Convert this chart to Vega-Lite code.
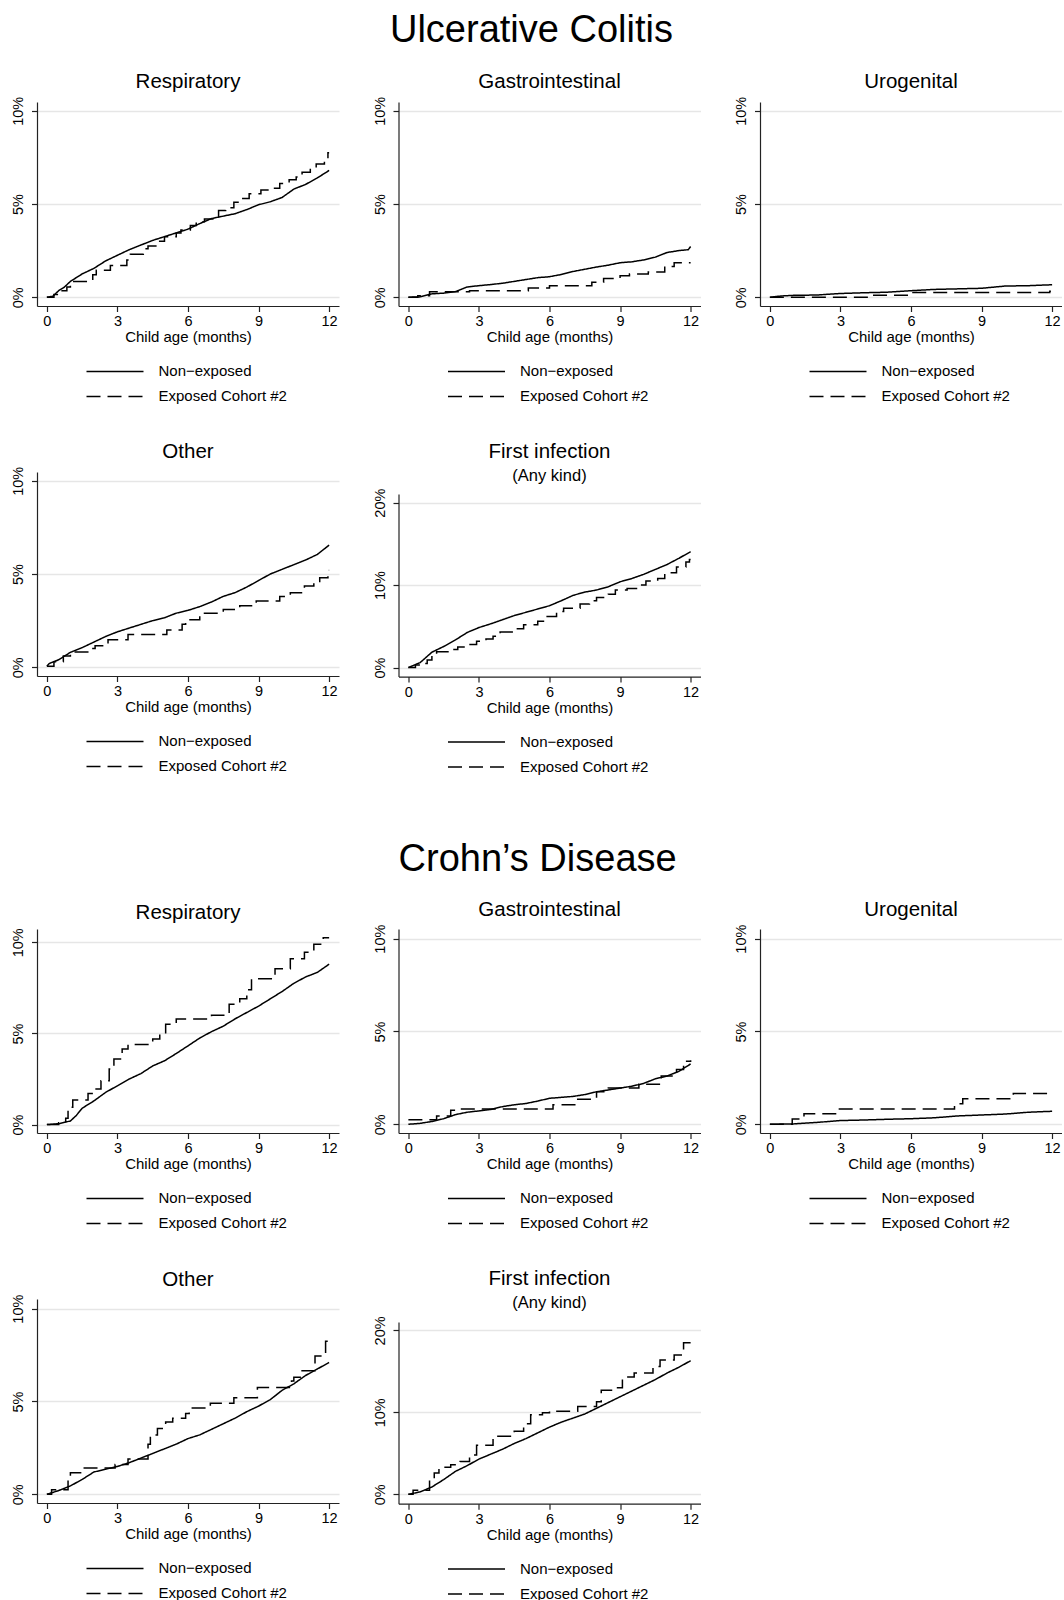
{
  "$schema": "https://vega.github.io/schema/vega-lite/v6.json",
  "padding": {"top": 11, "left": 10, "right": 0, "bottom": 0},
  "background": "white",
  "title": {"text": "Ulcerative Colitis", "fontSize": 38, "offset": 22.1, "anchor": "middle", "dx": -5},
  "data": {"values": [
    {"d":"UC","p":"R","g":"N","t":0,"v":0},{"d":"UC","p":"R","g":"N","t":0.25,"v":0.05},{"d":"UC","p":"R","g":"N","t":0.5,"v":0.35},{"d":"UC","p":"R","g":"N","t":0.75,"v":0.55},{"d":"UC","p":"R","g":"N","t":1,"v":0.85},{"d":"UC","p":"R","g":"N","t":1.25,"v":1.05},{"d":"UC","p":"R","g":"N","t":1.5,"v":1.25},{"d":"UC","p":"R","g":"N","t":1.75,"v":1.4},{"d":"UC","p":"R","g":"N","t":2,"v":1.55},{"d":"UC","p":"R","g":"N","t":2.25,"v":1.75},{"d":"UC","p":"R","g":"N","t":2.5,"v":1.95},{"d":"UC","p":"R","g":"N","t":3,"v":2.25},{"d":"UC","p":"R","g":"N","t":3.5,"v":2.55},{"d":"UC","p":"R","g":"N","t":4,"v":2.8},{"d":"UC","p":"R","g":"N","t":4.5,"v":3.05},{"d":"UC","p":"R","g":"N","t":5,"v":3.25},{"d":"UC","p":"R","g":"N","t":5.5,"v":3.45},{"d":"UC","p":"R","g":"N","t":6,"v":3.65},{"d":"UC","p":"R","g":"N","t":6.5,"v":3.95},{"d":"UC","p":"R","g":"N","t":7,"v":4.22},{"d":"UC","p":"R","g":"N","t":7.5,"v":4.35},{"d":"UC","p":"R","g":"N","t":8,"v":4.48},{"d":"UC","p":"R","g":"N","t":8.5,"v":4.7},{"d":"UC","p":"R","g":"N","t":9,"v":4.96},{"d":"UC","p":"R","g":"N","t":9.5,"v":5.12},{"d":"UC","p":"R","g":"N","t":10,"v":5.35},{"d":"UC","p":"R","g":"N","t":10.5,"v":5.8},{"d":"UC","p":"R","g":"N","t":11,"v":6.05},{"d":"UC","p":"R","g":"N","t":11.5,"v":6.4},{"d":"UC","p":"R","g":"N","t":12,"v":6.8},
    {"d":"UC","p":"R","g":"E","t":0,"v":0},{"d":"UC","p":"R","g":"E","t":0.3,"v":0.15},{"d":"UC","p":"R","g":"E","t":0.55,"v":0.35},{"d":"UC","p":"R","g":"E","t":0.85,"v":0.55},{"d":"UC","p":"R","g":"E","t":1.0,"v":0.85},{"d":"UC","p":"R","g":"E","t":1.95,"v":1.2},{"d":"UC","p":"R","g":"E","t":2.1,"v":1.45},{"d":"UC","p":"R","g":"E","t":2.7,"v":1.7},{"d":"UC","p":"R","g":"E","t":3.4,"v":2.0},{"d":"UC","p":"R","g":"E","t":3.55,"v":2.3},{"d":"UC","p":"R","g":"E","t":4.1,"v":2.6},{"d":"UC","p":"R","g":"E","t":4.3,"v":2.75},{"d":"UC","p":"R","g":"E","t":4.75,"v":3.0},{"d":"UC","p":"R","g":"E","t":5.0,"v":3.25},{"d":"UC","p":"R","g":"E","t":5.5,"v":3.45},{"d":"UC","p":"R","g":"E","t":5.7,"v":3.6},{"d":"UC","p":"R","g":"E","t":6.1,"v":3.85},{"d":"UC","p":"R","g":"E","t":6.35,"v":4.05},{"d":"UC","p":"R","g":"E","t":6.7,"v":4.2},{"d":"UC","p":"R","g":"E","t":7.3,"v":4.65},{"d":"UC","p":"R","g":"E","t":7.6,"v":4.8},{"d":"UC","p":"R","g":"E","t":7.95,"v":5.1},{"d":"UC","p":"R","g":"E","t":8.2,"v":5.3},{"d":"UC","p":"R","g":"E","t":8.6,"v":5.55},{"d":"UC","p":"R","g":"E","t":9.1,"v":5.75},{"d":"UC","p":"R","g":"E","t":9.5,"v":5.85},{"d":"UC","p":"R","g":"E","t":9.9,"v":6.1},{"d":"UC","p":"R","g":"E","t":10.3,"v":6.3},{"d":"UC","p":"R","g":"E","t":10.6,"v":6.45},{"d":"UC","p":"R","g":"E","t":10.85,"v":6.7},{"d":"UC","p":"R","g":"E","t":11.2,"v":6.9},{"d":"UC","p":"R","g":"E","t":11.45,"v":7.15},{"d":"UC","p":"R","g":"E","t":11.8,"v":7.4},{"d":"UC","p":"R","g":"E","t":11.95,"v":7.75},{"d":"UC","p":"R","g":"E","t":12,"v":7.75},
    {"d":"UC","p":"G","g":"N","t":0,"v":0},{"d":"UC","p":"G","g":"N","t":0.5,"v":0.02},{"d":"UC","p":"G","g":"N","t":1,"v":0.18},{"d":"UC","p":"G","g":"N","t":1.5,"v":0.22},{"d":"UC","p":"G","g":"N","t":2,"v":0.3},{"d":"UC","p":"G","g":"N","t":2.5,"v":0.55},{"d":"UC","p":"G","g":"N","t":3,"v":0.62},{"d":"UC","p":"G","g":"N","t":3.5,"v":0.68},{"d":"UC","p":"G","g":"N","t":4,"v":0.75},{"d":"UC","p":"G","g":"N","t":4.5,"v":0.85},{"d":"UC","p":"G","g":"N","t":5,"v":0.95},{"d":"UC","p":"G","g":"N","t":5.5,"v":1.05},{"d":"UC","p":"G","g":"N","t":6,"v":1.1},{"d":"UC","p":"G","g":"N","t":6.5,"v":1.22},{"d":"UC","p":"G","g":"N","t":7,"v":1.38},{"d":"UC","p":"G","g":"N","t":7.5,"v":1.5},{"d":"UC","p":"G","g":"N","t":8,"v":1.62},{"d":"UC","p":"G","g":"N","t":8.5,"v":1.72},{"d":"UC","p":"G","g":"N","t":9,"v":1.85},{"d":"UC","p":"G","g":"N","t":9.5,"v":1.9},{"d":"UC","p":"G","g":"N","t":10,"v":2.0},{"d":"UC","p":"G","g":"N","t":10.5,"v":2.15},{"d":"UC","p":"G","g":"N","t":11,"v":2.4},{"d":"UC","p":"G","g":"N","t":11.5,"v":2.5},{"d":"UC","p":"G","g":"N","t":11.9,"v":2.55},{"d":"UC","p":"G","g":"N","t":12,"v":2.72},
    {"d":"UC","p":"G","g":"E","t":0,"v":0},{"d":"UC","p":"G","g":"E","t":0.4,"v":0.08},{"d":"UC","p":"G","g":"E","t":0.9,"v":0.3},{"d":"UC","p":"G","g":"E","t":2.6,"v":0.35},{"d":"UC","p":"G","g":"E","t":5.1,"v":0.5},{"d":"UC","p":"G","g":"E","t":6.0,"v":0.62},{"d":"UC","p":"G","g":"E","t":7.8,"v":0.8},{"d":"UC","p":"G","g":"E","t":8.3,"v":1.0},{"d":"UC","p":"G","g":"E","t":9.0,"v":1.15},{"d":"UC","p":"G","g":"E","t":9.4,"v":1.25},{"d":"UC","p":"G","g":"E","t":10.2,"v":1.35},{"d":"UC","p":"G","g":"E","t":10.9,"v":1.65},{"d":"UC","p":"G","g":"E","t":11.3,"v":1.85},{"d":"UC","p":"G","g":"E","t":12,"v":1.85},
    {"d":"UC","p":"U","g":"N","t":0,"v":0},{"d":"UC","p":"U","g":"N","t":0.5,"v":0.07},{"d":"UC","p":"U","g":"N","t":1,"v":0.1},{"d":"UC","p":"U","g":"N","t":2,"v":0.12},{"d":"UC","p":"U","g":"N","t":3,"v":0.2},{"d":"UC","p":"U","g":"N","t":4,"v":0.24},{"d":"UC","p":"U","g":"N","t":5,"v":0.27},{"d":"UC","p":"U","g":"N","t":6,"v":0.35},{"d":"UC","p":"U","g":"N","t":7,"v":0.42},{"d":"UC","p":"U","g":"N","t":8,"v":0.45},{"d":"UC","p":"U","g":"N","t":9,"v":0.48},{"d":"UC","p":"U","g":"N","t":10,"v":0.6},{"d":"UC","p":"U","g":"N","t":11,"v":0.62},{"d":"UC","p":"U","g":"N","t":12,"v":0.67},
    {"d":"UC","p":"U","g":"E","t":0,"v":0},{"d":"UC","p":"U","g":"E","t":4.2,"v":0.1},{"d":"UC","p":"U","g":"E","t":6.0,"v":0.25},{"d":"UC","p":"U","g":"E","t":11.9,"v":0.32},{"d":"UC","p":"U","g":"E","t":12,"v":0.32},
    {"d":"UC","p":"O","g":"N","t":0,"v":0.05},{"d":"UC","p":"O","g":"N","t":0.1,"v":0.2},{"d":"UC","p":"O","g":"N","t":0.5,"v":0.4},{"d":"UC","p":"O","g":"N","t":1,"v":0.8},{"d":"UC","p":"O","g":"N","t":1.5,"v":1.05},{"d":"UC","p":"O","g":"N","t":2,"v":1.35},{"d":"UC","p":"O","g":"N","t":2.5,"v":1.65},{"d":"UC","p":"O","g":"N","t":3,"v":1.9},{"d":"UC","p":"O","g":"N","t":3.5,"v":2.1},{"d":"UC","p":"O","g":"N","t":4,"v":2.3},{"d":"UC","p":"O","g":"N","t":4.5,"v":2.5},{"d":"UC","p":"O","g":"N","t":5,"v":2.65},{"d":"UC","p":"O","g":"N","t":5.5,"v":2.9},{"d":"UC","p":"O","g":"N","t":6,"v":3.05},{"d":"UC","p":"O","g":"N","t":6.5,"v":3.25},{"d":"UC","p":"O","g":"N","t":7,"v":3.5},{"d":"UC","p":"O","g":"N","t":7.5,"v":3.8},{"d":"UC","p":"O","g":"N","t":8,"v":4.0},{"d":"UC","p":"O","g":"N","t":8.5,"v":4.3},{"d":"UC","p":"O","g":"N","t":9,"v":4.65},{"d":"UC","p":"O","g":"N","t":9.5,"v":5.0},{"d":"UC","p":"O","g":"N","t":10,"v":5.25},{"d":"UC","p":"O","g":"N","t":10.5,"v":5.5},{"d":"UC","p":"O","g":"N","t":11,"v":5.75},{"d":"UC","p":"O","g":"N","t":11.5,"v":6.05},{"d":"UC","p":"O","g":"N","t":12,"v":6.55},
    {"d":"UC","p":"O","g":"E","t":0,"v":0.05},{"d":"UC","p":"O","g":"E","t":0.3,"v":0.3},{"d":"UC","p":"O","g":"E","t":0.7,"v":0.6},{"d":"UC","p":"O","g":"E","t":1.0,"v":0.82},{"d":"UC","p":"O","g":"E","t":1.85,"v":1.0},{"d":"UC","p":"O","g":"E","t":2.05,"v":1.15},{"d":"UC","p":"O","g":"E","t":2.6,"v":1.48},{"d":"UC","p":"O","g":"E","t":3.45,"v":1.75},{"d":"UC","p":"O","g":"E","t":5.1,"v":2.0},{"d":"UC","p":"O","g":"E","t":5.75,"v":2.3},{"d":"UC","p":"O","g":"E","t":5.9,"v":2.55},{"d":"UC","p":"O","g":"E","t":6.5,"v":2.9},{"d":"UC","p":"O","g":"E","t":7.5,"v":3.1},{"d":"UC","p":"O","g":"E","t":8.2,"v":3.3},{"d":"UC","p":"O","g":"E","t":8.9,"v":3.55},{"d":"UC","p":"O","g":"E","t":9.9,"v":3.8},{"d":"UC","p":"O","g":"E","t":10.35,"v":4.0},{"d":"UC","p":"O","g":"E","t":10.95,"v":4.35},{"d":"UC","p":"O","g":"E","t":11.35,"v":4.6},{"d":"UC","p":"O","g":"E","t":11.6,"v":4.8},{"d":"UC","p":"O","g":"E","t":11.95,"v":5.2},{"d":"UC","p":"O","g":"E","t":12,"v":5.2},
    {"d":"UC","p":"F","g":"N","t":0,"v":0},{"d":"UC","p":"F","g":"N","t":0.5,"v":0.6},{"d":"UC","p":"F","g":"N","t":1,"v":1.86},{"d":"UC","p":"F","g":"N","t":1.5,"v":2.55},{"d":"UC","p":"F","g":"N","t":2,"v":3.35},{"d":"UC","p":"F","g":"N","t":2.5,"v":4.25},{"d":"UC","p":"F","g":"N","t":3,"v":4.85},{"d":"UC","p":"F","g":"N","t":3.5,"v":5.3},{"d":"UC","p":"F","g":"N","t":4,"v":5.8},{"d":"UC","p":"F","g":"N","t":4.5,"v":6.3},{"d":"UC","p":"F","g":"N","t":5,"v":6.7},{"d":"UC","p":"F","g":"N","t":5.5,"v":7.1},{"d":"UC","p":"F","g":"N","t":6,"v":7.5},{"d":"UC","p":"F","g":"N","t":6.5,"v":8.1},{"d":"UC","p":"F","g":"N","t":7,"v":8.75},{"d":"UC","p":"F","g":"N","t":7.5,"v":9.15},{"d":"UC","p":"F","g":"N","t":8,"v":9.4},{"d":"UC","p":"F","g":"N","t":8.5,"v":9.8},{"d":"UC","p":"F","g":"N","t":9,"v":10.4},{"d":"UC","p":"F","g":"N","t":9.5,"v":10.8},{"d":"UC","p":"F","g":"N","t":10,"v":11.3},{"d":"UC","p":"F","g":"N","t":10.5,"v":11.9},{"d":"UC","p":"F","g":"N","t":11,"v":12.5},{"d":"UC","p":"F","g":"N","t":11.5,"v":13.25},{"d":"UC","p":"F","g":"N","t":12,"v":14.05},
    {"d":"UC","p":"F","g":"E","t":0,"v":0},{"d":"UC","p":"F","g":"E","t":0.3,"v":0.3},{"d":"UC","p":"F","g":"E","t":0.5,"v":0.5},{"d":"UC","p":"F","g":"E","t":0.8,"v":0.9},{"d":"UC","p":"F","g":"E","t":1.0,"v":1.6},{"d":"UC","p":"F","g":"E","t":1.2,"v":1.9},{"d":"UC","p":"F","g":"E","t":1.85,"v":2.2},{"d":"UC","p":"F","g":"E","t":2.1,"v":2.5},{"d":"UC","p":"F","g":"E","t":2.5,"v":2.8},{"d":"UC","p":"F","g":"E","t":2.9,"v":3.2},{"d":"UC","p":"F","g":"E","t":3.3,"v":3.45},{"d":"UC","p":"F","g":"E","t":3.6,"v":3.8},{"d":"UC","p":"F","g":"E","t":3.9,"v":4.3},{"d":"UC","p":"F","g":"E","t":4.5,"v":4.7},{"d":"UC","p":"F","g":"E","t":4.9,"v":5.2},{"d":"UC","p":"F","g":"E","t":5.5,"v":5.6},{"d":"UC","p":"F","g":"E","t":5.9,"v":6.2},{"d":"UC","p":"F","g":"E","t":6.3,"v":6.8},{"d":"UC","p":"F","g":"E","t":6.6,"v":7.2},{"d":"UC","p":"F","g":"E","t":7.3,"v":7.7},{"d":"UC","p":"F","g":"E","t":7.7,"v":8.1},{"d":"UC","p":"F","g":"E","t":8.0,"v":8.5},{"d":"UC","p":"F","g":"E","t":8.5,"v":8.9},{"d":"UC","p":"F","g":"E","t":8.8,"v":9.4},{"d":"UC","p":"F","g":"E","t":9.3,"v":9.6},{"d":"UC","p":"F","g":"E","t":9.8,"v":10.0},{"d":"UC","p":"F","g":"E","t":10.1,"v":10.5},{"d":"UC","p":"F","g":"E","t":10.6,"v":10.8},{"d":"UC","p":"F","g":"E","t":10.9,"v":11.5},{"d":"UC","p":"F","g":"E","t":11.4,"v":12.2},{"d":"UC","p":"F","g":"E","t":11.8,"v":12.8},{"d":"UC","p":"F","g":"E","t":11.95,"v":13.1},{"d":"UC","p":"F","g":"E","t":12,"v":13.1},
    {"d":"CD","p":"R","g":"N","t":0,"v":0},{"d":"CD","p":"R","g":"N","t":0.5,"v":0.05},{"d":"CD","p":"R","g":"N","t":1,"v":0.2},{"d":"CD","p":"R","g":"N","t":1.25,"v":0.5},{"d":"CD","p":"R","g":"N","t":1.5,"v":0.9},{"d":"CD","p":"R","g":"N","t":2,"v":1.3},{"d":"CD","p":"R","g":"N","t":2.5,"v":1.77},{"d":"CD","p":"R","g":"N","t":3,"v":2.13},{"d":"CD","p":"R","g":"N","t":3.5,"v":2.5},{"d":"CD","p":"R","g":"N","t":4,"v":2.8},{"d":"CD","p":"R","g":"N","t":4.5,"v":3.22},{"d":"CD","p":"R","g":"N","t":5,"v":3.5},{"d":"CD","p":"R","g":"N","t":5.5,"v":3.9},{"d":"CD","p":"R","g":"N","t":6,"v":4.32},{"d":"CD","p":"R","g":"N","t":6.5,"v":4.75},{"d":"CD","p":"R","g":"N","t":7,"v":5.1},{"d":"CD","p":"R","g":"N","t":7.5,"v":5.4},{"d":"CD","p":"R","g":"N","t":8,"v":5.8},{"d":"CD","p":"R","g":"N","t":8.5,"v":6.15},{"d":"CD","p":"R","g":"N","t":9,"v":6.5},{"d":"CD","p":"R","g":"N","t":9.5,"v":6.9},{"d":"CD","p":"R","g":"N","t":10,"v":7.3},{"d":"CD","p":"R","g":"N","t":10.5,"v":7.75},{"d":"CD","p":"R","g":"N","t":11,"v":8.1},{"d":"CD","p":"R","g":"N","t":11.5,"v":8.35},{"d":"CD","p":"R","g":"N","t":12,"v":8.8},
    {"d":"CD","p":"R","g":"E","t":0,"v":0},{"d":"CD","p":"R","g":"E","t":0.5,"v":0.1},{"d":"CD","p":"R","g":"E","t":0.8,"v":0.35},{"d":"CD","p":"R","g":"E","t":0.9,"v":0.95},{"d":"CD","p":"R","g":"E","t":1.1,"v":1.35},{"d":"CD","p":"R","g":"E","t":1.75,"v":1.7},{"d":"CD","p":"R","g":"E","t":2.0,"v":1.95},{"d":"CD","p":"R","g":"E","t":2.3,"v":2.4},{"d":"CD","p":"R","g":"E","t":2.65,"v":3.05},{"d":"CD","p":"R","g":"E","t":2.85,"v":3.6},{"d":"CD","p":"R","g":"E","t":3.2,"v":4.15},{"d":"CD","p":"R","g":"E","t":3.45,"v":4.4},{"d":"CD","p":"R","g":"E","t":4.5,"v":4.7},{"d":"CD","p":"R","g":"E","t":4.8,"v":4.95},{"d":"CD","p":"R","g":"E","t":5.05,"v":5.5},{"d":"CD","p":"R","g":"E","t":5.5,"v":5.8},{"d":"CD","p":"R","g":"E","t":7.0,"v":6.0},{"d":"CD","p":"R","g":"E","t":7.75,"v":6.6},{"d":"CD","p":"R","g":"E","t":8.2,"v":6.9},{"d":"CD","p":"R","g":"E","t":8.5,"v":7.4},{"d":"CD","p":"R","g":"E","t":8.7,"v":8.0},{"d":"CD","p":"R","g":"E","t":9.7,"v":8.55},{"d":"CD","p":"R","g":"E","t":10.35,"v":9.1},{"d":"CD","p":"R","g":"E","t":10.95,"v":9.45},{"d":"CD","p":"R","g":"E","t":11.35,"v":9.9},{"d":"CD","p":"R","g":"E","t":11.75,"v":10.25},{"d":"CD","p":"R","g":"E","t":12,"v":10.25},
    {"d":"CD","p":"G","g":"N","t":0,"v":0},{"d":"CD","p":"G","g":"N","t":0.5,"v":0.05},{"d":"CD","p":"G","g":"N","t":1,"v":0.15},{"d":"CD","p":"G","g":"N","t":1.5,"v":0.3},{"d":"CD","p":"G","g":"N","t":2,"v":0.52},{"d":"CD","p":"G","g":"N","t":2.5,"v":0.65},{"d":"CD","p":"G","g":"N","t":3,"v":0.72},{"d":"CD","p":"G","g":"N","t":3.5,"v":0.8},{"d":"CD","p":"G","g":"N","t":4,"v":0.95},{"d":"CD","p":"G","g":"N","t":4.5,"v":1.05},{"d":"CD","p":"G","g":"N","t":5,"v":1.12},{"d":"CD","p":"G","g":"N","t":5.5,"v":1.25},{"d":"CD","p":"G","g":"N","t":6,"v":1.4},{"d":"CD","p":"G","g":"N","t":6.5,"v":1.45},{"d":"CD","p":"G","g":"N","t":7,"v":1.5},{"d":"CD","p":"G","g":"N","t":7.5,"v":1.6},{"d":"CD","p":"G","g":"N","t":8,"v":1.75},{"d":"CD","p":"G","g":"N","t":8.5,"v":1.85},{"d":"CD","p":"G","g":"N","t":9,"v":1.95},{"d":"CD","p":"G","g":"N","t":9.5,"v":2.05},{"d":"CD","p":"G","g":"N","t":10,"v":2.2},{"d":"CD","p":"G","g":"N","t":10.5,"v":2.45},{"d":"CD","p":"G","g":"N","t":11,"v":2.6},{"d":"CD","p":"G","g":"N","t":11.5,"v":2.85},{"d":"CD","p":"G","g":"N","t":12,"v":3.25},
    {"d":"CD","p":"G","g":"E","t":0,"v":0.25},{"d":"CD","p":"G","g":"E","t":1.2,"v":0.45},{"d":"CD","p":"G","g":"E","t":1.8,"v":0.75},{"d":"CD","p":"G","g":"E","t":2.0,"v":0.82},{"d":"CD","p":"G","g":"E","t":6.15,"v":1.05},{"d":"CD","p":"G","g":"E","t":7.15,"v":1.35},{"d":"CD","p":"G","g":"E","t":8.0,"v":1.75},{"d":"CD","p":"G","g":"E","t":8.5,"v":1.95},{"d":"CD","p":"G","g":"E","t":9.8,"v":2.15},{"d":"CD","p":"G","g":"E","t":10.75,"v":2.6},{"d":"CD","p":"G","g":"E","t":11.4,"v":2.95},{"d":"CD","p":"G","g":"E","t":11.7,"v":3.4},{"d":"CD","p":"G","g":"E","t":12,"v":3.45},
    {"d":"CD","p":"U","g":"N","t":0,"v":0},{"d":"CD","p":"U","g":"N","t":1,"v":0.02},{"d":"CD","p":"U","g":"N","t":2,"v":0.1},{"d":"CD","p":"U","g":"N","t":3,"v":0.2},{"d":"CD","p":"U","g":"N","t":4,"v":0.23},{"d":"CD","p":"U","g":"N","t":5,"v":0.27},{"d":"CD","p":"U","g":"N","t":6,"v":0.3},{"d":"CD","p":"U","g":"N","t":7,"v":0.35},{"d":"CD","p":"U","g":"N","t":8,"v":0.45},{"d":"CD","p":"U","g":"N","t":9,"v":0.5},{"d":"CD","p":"U","g":"N","t":10,"v":0.55},{"d":"CD","p":"U","g":"N","t":11,"v":0.65},{"d":"CD","p":"U","g":"N","t":12,"v":0.7},
    {"d":"CD","p":"U","g":"E","t":0,"v":0},{"d":"CD","p":"U","g":"E","t":0.95,"v":0.29},{"d":"CD","p":"U","g":"E","t":1.45,"v":0.57},{"d":"CD","p":"U","g":"E","t":2.85,"v":0.82},{"d":"CD","p":"U","g":"E","t":7.85,"v":1.1},{"d":"CD","p":"U","g":"E","t":8.2,"v":1.37},{"d":"CD","p":"U","g":"E","t":10.35,"v":1.66},{"d":"CD","p":"U","g":"E","t":12,"v":1.66},
    {"d":"CD","p":"O","g":"N","t":0,"v":0},{"d":"CD","p":"O","g":"N","t":0.25,"v":0.1},{"d":"CD","p":"O","g":"N","t":0.5,"v":0.2},{"d":"CD","p":"O","g":"N","t":1,"v":0.45},{"d":"CD","p":"O","g":"N","t":1.5,"v":0.8},{"d":"CD","p":"O","g":"N","t":2,"v":1.2},{"d":"CD","p":"O","g":"N","t":2.5,"v":1.35},{"d":"CD","p":"O","g":"N","t":3,"v":1.5},{"d":"CD","p":"O","g":"N","t":3.5,"v":1.7},{"d":"CD","p":"O","g":"N","t":4,"v":1.95},{"d":"CD","p":"O","g":"N","t":4.5,"v":2.2},{"d":"CD","p":"O","g":"N","t":5,"v":2.45},{"d":"CD","p":"O","g":"N","t":5.5,"v":2.7},{"d":"CD","p":"O","g":"N","t":6,"v":3.0},{"d":"CD","p":"O","g":"N","t":6.5,"v":3.2},{"d":"CD","p":"O","g":"N","t":7,"v":3.5},{"d":"CD","p":"O","g":"N","t":7.5,"v":3.8},{"d":"CD","p":"O","g":"N","t":8,"v":4.1},{"d":"CD","p":"O","g":"N","t":8.5,"v":4.45},{"d":"CD","p":"O","g":"N","t":9,"v":4.75},{"d":"CD","p":"O","g":"N","t":9.5,"v":5.1},{"d":"CD","p":"O","g":"N","t":10,"v":5.6},{"d":"CD","p":"O","g":"N","t":10.5,"v":5.95},{"d":"CD","p":"O","g":"N","t":11,"v":6.4},{"d":"CD","p":"O","g":"N","t":11.5,"v":6.75},{"d":"CD","p":"O","g":"N","t":12,"v":7.1},
    {"d":"CD","p":"O","g":"E","t":0,"v":0},{"d":"CD","p":"O","g":"E","t":0.2,"v":0.25},{"d":"CD","p":"O","g":"E","t":0.9,"v":0.75},{"d":"CD","p":"O","g":"E","t":1.0,"v":1.16},{"d":"CD","p":"O","g":"E","t":1.55,"v":1.42},{"d":"CD","p":"O","g":"E","t":2.9,"v":1.6},{"d":"CD","p":"O","g":"E","t":3.45,"v":1.9},{"d":"CD","p":"O","g":"E","t":4.3,"v":2.7},{"d":"CD","p":"O","g":"E","t":4.4,"v":3.2},{"d":"CD","p":"O","g":"E","t":4.7,"v":3.55},{"d":"CD","p":"O","g":"E","t":5.05,"v":3.9},{"d":"CD","p":"O","g":"E","t":5.35,"v":4.1},{"d":"CD","p":"O","g":"E","t":5.9,"v":4.35},{"d":"CD","p":"O","g":"E","t":6.05,"v":4.65},{"d":"CD","p":"O","g":"E","t":6.95,"v":4.9},{"d":"CD","p":"O","g":"E","t":7.95,"v":5.2},{"d":"CD","p":"O","g":"E","t":8.95,"v":5.75},{"d":"CD","p":"O","g":"E","t":10.4,"v":6.1},{"d":"CD","p":"O","g":"E","t":10.5,"v":6.3},{"d":"CD","p":"O","g":"E","t":10.85,"v":6.65},{"d":"CD","p":"O","g":"E","t":11.4,"v":7.45},{"d":"CD","p":"O","g":"E","t":11.85,"v":8.25},{"d":"CD","p":"O","g":"E","t":12,"v":8.25},
    {"d":"CD","p":"F","g":"N","t":0,"v":0},{"d":"CD","p":"F","g":"N","t":0.5,"v":0.3},{"d":"CD","p":"F","g":"N","t":1,"v":0.9},{"d":"CD","p":"F","g":"N","t":1.5,"v":1.8},{"d":"CD","p":"F","g":"N","t":2,"v":2.8},{"d":"CD","p":"F","g":"N","t":2.5,"v":3.5},{"d":"CD","p":"F","g":"N","t":3,"v":4.3},{"d":"CD","p":"F","g":"N","t":3.5,"v":4.9},{"d":"CD","p":"F","g":"N","t":4,"v":5.5},{"d":"CD","p":"F","g":"N","t":4.5,"v":6.2},{"d":"CD","p":"F","g":"N","t":5,"v":6.8},{"d":"CD","p":"F","g":"N","t":5.5,"v":7.5},{"d":"CD","p":"F","g":"N","t":6,"v":8.2},{"d":"CD","p":"F","g":"N","t":6.5,"v":8.8},{"d":"CD","p":"F","g":"N","t":7,"v":9.3},{"d":"CD","p":"F","g":"N","t":7.5,"v":9.8},{"d":"CD","p":"F","g":"N","t":8,"v":10.5},{"d":"CD","p":"F","g":"N","t":8.5,"v":11.2},{"d":"CD","p":"F","g":"N","t":9,"v":11.9},{"d":"CD","p":"F","g":"N","t":9.5,"v":12.6},{"d":"CD","p":"F","g":"N","t":10,"v":13.3},{"d":"CD","p":"F","g":"N","t":10.5,"v":14.0},{"d":"CD","p":"F","g":"N","t":11,"v":14.8},{"d":"CD","p":"F","g":"N","t":11.5,"v":15.5},{"d":"CD","p":"F","g":"N","t":12,"v":16.3},
    {"d":"CD","p":"F","g":"E","t":0,"v":0},{"d":"CD","p":"F","g":"E","t":0.2,"v":0.5},{"d":"CD","p":"F","g":"E","t":0.9,"v":1.8},{"d":"CD","p":"F","g":"E","t":1.1,"v":2.6},{"d":"CD","p":"F","g":"E","t":1.3,"v":3.3},{"d":"CD","p":"F","g":"E","t":1.8,"v":3.6},{"d":"CD","p":"F","g":"E","t":2.2,"v":4.0},{"d":"CD","p":"F","g":"E","t":2.6,"v":4.8},{"d":"CD","p":"F","g":"E","t":2.9,"v":6.0},{"d":"CD","p":"F","g":"E","t":3.6,"v":7.1},{"d":"CD","p":"F","g":"E","t":4.5,"v":7.7},{"d":"CD","p":"F","g":"E","t":4.9,"v":8.6},{"d":"CD","p":"F","g":"E","t":5.2,"v":9.7},{"d":"CD","p":"F","g":"E","t":5.7,"v":9.95},{"d":"CD","p":"F","g":"E","t":6.0,"v":10.15},{"d":"CD","p":"F","g":"E","t":7.2,"v":10.7},{"d":"CD","p":"F","g":"E","t":8.0,"v":11.3},{"d":"CD","p":"F","g":"E","t":8.2,"v":12.7},{"d":"CD","p":"F","g":"E","t":8.7,"v":13.0},{"d":"CD","p":"F","g":"E","t":9.1,"v":14.3},{"d":"CD","p":"F","g":"E","t":9.6,"v":14.8},{"d":"CD","p":"F","g":"E","t":10.4,"v":15.6},{"d":"CD","p":"F","g":"E","t":10.7,"v":16.4},{"d":"CD","p":"F","g":"E","t":11.3,"v":17.0},{"d":"CD","p":"F","g":"E","t":11.7,"v":18.5},{"d":"CD","p":"F","g":"E","t":12,"v":18.5}
  ]},
  "columns": 3,
  "bounds": "flush",
  "align": "each",
  "spacing": {"row": 166, "column": 59.5},
  "resolve": {"scale": {"strokeDash": "independent"}, "legend": {"strokeDash": "independent"}},
  "concat": [
    {"width": 302, "height": 204, "title": "Respiratory",
     "transform": [{"filter": "datum.d=='UC' && datum.p=='R'"}],
     "encoding": {
       "x": {"field": "t", "type": "quantitative", "title": "Child age (months)", "scale": {"domain": [-0.42, 12.42], "nice": false, "zero": false}, "axis": {"values": [0, 3, 6, 9, 12]}},
       "y": {"field": "v", "type": "quantitative", "title": null, "scale": {"domain": [-0.47, 10.47], "nice": false, "zero": false}, "axis": {"values": [0, 5, 10]}},
       "strokeDash": {"field": "g", "type": "nominal", "scale": {"domain": ["N", "E"], "range": [[1, 0], [14, 7]]}, "legend": {"title": null, "orient": "none", "legendX": 48.5, "legendY": 261.4, "labelExpr": "datum.label == 'N' ? 'Non−exposed' : 'Exposed Cohort #2'"}}
     },
     "layer": [
       {"transform": [{"filter": "datum.g=='N'"}], "mark": {"type": "line"}},
       {"transform": [{"filter": "datum.g=='E'"}], "mark": {"type": "line", "interpolate": "step-after"}}
     ]},
    {"width": 302, "height": 204, "title": "Gastrointestinal",
     "transform": [{"filter": "datum.d=='UC' && datum.p=='G'"}],
     "encoding": {
       "x": {"field": "t", "type": "quantitative", "title": "Child age (months)", "scale": {"domain": [-0.42, 12.42], "nice": false, "zero": false}, "axis": {"values": [0, 3, 6, 9, 12]}},
       "y": {"field": "v", "type": "quantitative", "title": null, "scale": {"domain": [-0.47, 10.47], "nice": false, "zero": false}, "axis": {"values": [0, 5, 10]}},
       "strokeDash": {"field": "g", "type": "nominal", "scale": {"domain": ["N", "E"], "range": [[1, 0], [14, 7]]}, "legend": {"title": null, "orient": "none", "legendX": 48.5, "legendY": 261.4, "labelExpr": "datum.label == 'N' ? 'Non−exposed' : 'Exposed Cohort #2'"}}
     },
     "layer": [
       {"transform": [{"filter": "datum.g=='N'"}], "mark": {"type": "line"}},
       {"transform": [{"filter": "datum.g=='E'"}], "mark": {"type": "line", "interpolate": "step-after"}}
     ]},
    {"width": 302, "height": 204, "title": "Urogenital",
     "transform": [{"filter": "datum.d=='UC' && datum.p=='U'"}],
     "encoding": {
       "x": {"field": "t", "type": "quantitative", "title": "Child age (months)", "scale": {"domain": [-0.42, 12.42], "nice": false, "zero": false}, "axis": {"values": [0, 3, 6, 9, 12]}},
       "y": {"field": "v", "type": "quantitative", "title": null, "scale": {"domain": [-0.47, 10.47], "nice": false, "zero": false}, "axis": {"values": [0, 5, 10]}},
       "strokeDash": {"field": "g", "type": "nominal", "scale": {"domain": ["N", "E"], "range": [[1, 0], [14, 7]]}, "legend": {"title": null, "orient": "none", "legendX": 48.5, "legendY": 261.4, "labelExpr": "datum.label == 'N' ? 'Non−exposed' : 'Exposed Cohort #2'"}}
     },
     "layer": [
       {"transform": [{"filter": "datum.g=='N'"}], "mark": {"type": "line"}},
       {"transform": [{"filter": "datum.g=='E'"}], "mark": {"type": "line", "interpolate": "step-after"}}
     ]},
    {"width": 302, "height": 204, "title": "Other",
     "transform": [{"filter": "datum.d=='UC' && datum.p=='O'"}],
     "encoding": {
       "x": {"field": "t", "type": "quantitative", "title": "Child age (months)", "scale": {"domain": [-0.42, 12.42], "nice": false, "zero": false}, "axis": {"values": [0, 3, 6, 9, 12]}},
       "y": {"field": "v", "type": "quantitative", "title": null, "scale": {"domain": [-0.47, 10.47], "nice": false, "zero": false}, "axis": {"values": [0, 5, 10]}},
       "strokeDash": {"field": "g", "type": "nominal", "scale": {"domain": ["N", "E"], "range": [[1, 0], [14, 7]]}, "legend": {"title": null, "orient": "none", "legendX": 48.5, "legendY": 261.4, "labelExpr": "datum.label == 'N' ? 'Non−exposed' : 'Exposed Cohort #2'"}}
     },
     "layer": [
       {"transform": [{"filter": "datum.g=='N'"}], "mark": {"type": "line"}},
       {"transform": [{"filter": "datum.g=='E'"}], "mark": {"type": "line", "interpolate": "step-after"}}
     ]},
    {"vconcat": [
       {"width": 302, "height": 21.4, "data": {"values": []}, "mark": "point"},
       {"width": 302, "height": 182.6, "title": {"text": "First infection", "subtitle": "(Any kind)"},
        "transform": [{"filter": "datum.d=='UC' && datum.p=='F'"}],
        "encoding": {
          "x": {"field": "t", "type": "quantitative", "title": "Child age (months)", "scale": {"domain": [-0.42, 12.42], "nice": false, "zero": false}, "axis": {"values": [0, 3, 6, 9, 12]}},
          "y": {"field": "v", "type": "quantitative", "title": null, "scale": {"domain": [-1.1, 21.05], "nice": false, "zero": false}, "axis": {"values": [0, 10, 20]}},
          "strokeDash": {"field": "g", "type": "nominal", "scale": {"domain": ["N", "E"], "range": [[1, 0], [14, 7]]}, "legend": {"title": null, "orient": "none", "legendX": 48.5, "legendY": 239.9, "labelExpr": "datum.label == 'N' ? 'Non−exposed' : 'Exposed Cohort #2'"}}
        },
        "layer": [
          {"transform": [{"filter": "datum.g=='N'"}], "mark": {"type": "line"}},
          {"transform": [{"filter": "datum.g=='E'"}], "mark": {"type": "line", "interpolate": "step-after"}}
        ]}
     ],
     "spacing": 0, "bounds": "flush",
     "resolve": {"scale": {"strokeDash": "independent"}, "legend": {"strokeDash": "independent"}}},
    {"width": 302, "height": 290.7, "data": {"values": []}, "mark": "point",
     "title": {"text": "Crohn’s Disease", "orient": "bottom", "fontSize": 38, "offset": 78.5, "dx": -373.4, "baseline": "top", "anchor": "middle"}},
    {"width": 302, "height": 204, "title": "Respiratory",
     "transform": [{"filter": "datum.d=='CD' && datum.p=='R'"}],
     "encoding": {
       "x": {"field": "t", "type": "quantitative", "title": "Child age (months)", "scale": {"domain": [-0.42, 12.42], "nice": false, "zero": false}, "axis": {"values": [0, 3, 6, 9, 12]}},
       "y": {"field": "v", "type": "quantitative", "title": null, "scale": {"domain": [-0.46, 10.73], "nice": false, "zero": false}, "axis": {"values": [0, 5, 10]}},
       "strokeDash": {"field": "g", "type": "nominal", "scale": {"domain": ["N", "E"], "range": [[1, 0], [14, 7]]}, "legend": {"title": null, "orient": "none", "legendX": 48.5, "legendY": 261.4, "labelExpr": "datum.label == 'N' ? 'Non−exposed' : 'Exposed Cohort #2'"}}
     },
     "layer": [
       {"transform": [{"filter": "datum.g=='N'"}], "mark": {"type": "line"}},
       {"transform": [{"filter": "datum.g=='E'"}], "mark": {"type": "line", "interpolate": "step-after"}}
     ]},
    {"width": 302, "height": 204, "title": "Gastrointestinal",
     "transform": [{"filter": "datum.d=='CD' && datum.p=='G'"}],
     "encoding": {
       "x": {"field": "t", "type": "quantitative", "title": "Child age (months)", "scale": {"domain": [-0.42, 12.42], "nice": false, "zero": false}, "axis": {"values": [0, 3, 6, 9, 12]}},
       "y": {"field": "v", "type": "quantitative", "title": null, "scale": {"domain": [-0.47, 10.52], "nice": false, "zero": false}, "axis": {"values": [0, 5, 10]}},
       "strokeDash": {"field": "g", "type": "nominal", "scale": {"domain": ["N", "E"], "range": [[1, 0], [14, 7]]}, "legend": {"title": null, "orient": "none", "legendX": 48.5, "legendY": 261.4, "labelExpr": "datum.label == 'N' ? 'Non−exposed' : 'Exposed Cohort #2'"}}
     },
     "layer": [
       {"transform": [{"filter": "datum.g=='N'"}], "mark": {"type": "line"}},
       {"transform": [{"filter": "datum.g=='E'"}], "mark": {"type": "line", "interpolate": "step-after"}}
     ]},
    {"width": 302, "height": 204, "title": "Urogenital",
     "transform": [{"filter": "datum.d=='CD' && datum.p=='U'"}],
     "encoding": {
       "x": {"field": "t", "type": "quantitative", "title": "Child age (months)", "scale": {"domain": [-0.42, 12.42], "nice": false, "zero": false}, "axis": {"values": [0, 3, 6, 9, 12]}},
       "y": {"field": "v", "type": "quantitative", "title": null, "scale": {"domain": [-0.47, 10.52], "nice": false, "zero": false}, "axis": {"values": [0, 5, 10]}},
       "strokeDash": {"field": "g", "type": "nominal", "scale": {"domain": ["N", "E"], "range": [[1, 0], [14, 7]]}, "legend": {"title": null, "orient": "none", "legendX": 48.5, "legendY": 261.4, "labelExpr": "datum.label == 'N' ? 'Non−exposed' : 'Exposed Cohort #2'"}}
     },
     "layer": [
       {"transform": [{"filter": "datum.g=='N'"}], "mark": {"type": "line"}},
       {"transform": [{"filter": "datum.g=='E'"}], "mark": {"type": "line", "interpolate": "step-after"}}
     ]},
    {"width": 302, "height": 204, "title": "Other",
     "transform": [{"filter": "datum.d=='CD' && datum.p=='O'"}],
     "encoding": {
       "x": {"field": "t", "type": "quantitative", "title": "Child age (months)", "scale": {"domain": [-0.42, 12.42], "nice": false, "zero": false}, "axis": {"values": [0, 3, 6, 9, 12]}},
       "y": {"field": "v", "type": "quantitative", "title": null, "scale": {"domain": [-0.47, 10.52], "nice": false, "zero": false}, "axis": {"values": [0, 5, 10]}},
       "strokeDash": {"field": "g", "type": "nominal", "scale": {"domain": ["N", "E"], "range": [[1, 0], [14, 7]]}, "legend": {"title": null, "orient": "none", "legendX": 48.5, "legendY": 261.4, "labelExpr": "datum.label == 'N' ? 'Non−exposed' : 'Exposed Cohort #2'"}}
     },
     "layer": [
       {"transform": [{"filter": "datum.g=='N'"}], "mark": {"type": "line"}},
       {"transform": [{"filter": "datum.g=='E'"}], "mark": {"type": "line", "interpolate": "step-after"}}
     ]},
    {"vconcat": [
       {"width": 302, "height": 22.3, "data": {"values": []}, "mark": "point"},
       {"width": 302, "height": 181.7, "title": {"text": "First infection", "subtitle": "(Any kind)"},
        "transform": [{"filter": "datum.d=='CD' && datum.p=='F'"}],
        "encoding": {
          "x": {"field": "t", "type": "quantitative", "title": "Child age (months)", "scale": {"domain": [-0.42, 12.42], "nice": false, "zero": false}, "axis": {"values": [0, 3, 6, 9, 12]}},
          "y": {"field": "v", "type": "quantitative", "title": null, "scale": {"domain": [-1.14, 21.02], "nice": false, "zero": false}, "axis": {"values": [0, 10, 20]}},
          "strokeDash": {"field": "g", "type": "nominal", "scale": {"domain": ["N", "E"], "range": [[1, 0], [14, 7]]}, "legend": {"title": null, "orient": "none", "legendX": 48.5, "legendY": 239.0, "labelExpr": "datum.label == 'N' ? 'Non−exposed' : 'Exposed Cohort #2'"}}
        },
        "layer": [
          {"transform": [{"filter": "datum.g=='N'"}], "mark": {"type": "line"}},
          {"transform": [{"filter": "datum.g=='E'"}], "mark": {"type": "line", "interpolate": "step-after"}}
        ]}
     ],
     "spacing": 0, "bounds": "flush",
     "resolve": {"scale": {"strokeDash": "independent"}, "legend": {"strokeDash": "independent"}}}
  ],
  "config": {
    "font": "Liberation Sans",
    "view": {"stroke": null},
    "title": {"font": "Liberation Sans", "fontSize": 20.5, "fontWeight": "normal", "color": "#000", "offset": 0, "anchor": "middle", "subtitleFont": "Liberation Sans", "subtitleFontSize": 16.5, "subtitleColor": "#000", "subtitlePadding": 5.4},
    "axis": {"domainColor": "#222", "domainWidth": 1.2, "tickColor": "#222", "tickWidth": 1.2, "tickSize": 5.5, "labelFont": "Liberation Sans", "labelFontSize": 14.5, "labelColor": "#000", "titleFont": "Liberation Sans", "titleFontSize": 15, "titleFontWeight": "normal", "titleColor": "#000", "gridColor": "#e6e6e6", "gridWidth": 1.5, "labelOverlap": false, "labelFlush": false},
    "axisX": {"grid": false, "labelAngle": 0, "labelPadding": 3.4, "titlePadding": 1.5},
    "axisY": {"grid": true, "labelAngle": 270, "labelAlign": "center", "labelBaseline": "alphabetic", "labelPadding": 8.6, "labelExpr": "datum.value + '%'"},
    "legend": {"orient": "none", "direction": "vertical", "symbolType": "stroke", "symbolSize": 3249, "symbolStrokeWidth": 1.3, "symbolStrokeColor": "#000", "labelFont": "Liberation Sans", "labelFontSize": 15, "labelColor": "#000", "labelOffset": 14, "rowPadding": 9, "clipHeight": 16, "padding": 0, "labelLimit": 300},
    "line": {"color": "#000", "strokeWidth": 1.5}
  }
}
